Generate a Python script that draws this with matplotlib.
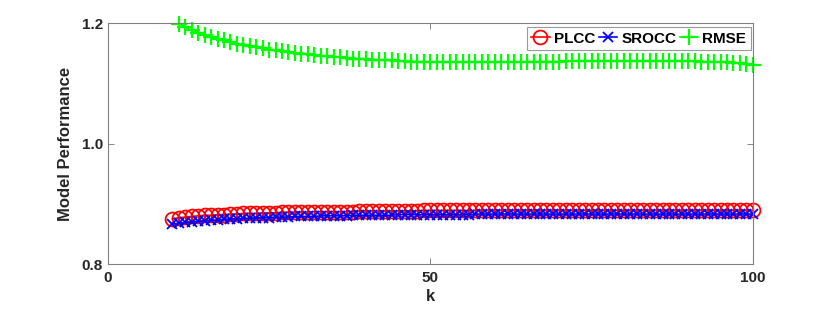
import numpy as np
import matplotlib
matplotlib.use('Agg')
import matplotlib.pyplot as plt

plt.rcParams['font.family'] = ['Liberation Sans', 'DejaVu Sans']
plt.rcParams['font.weight'] = 'bold'

# k = 10 .. 100
k = list(range(10, 101))

plcc = [0.875, 0.877, 0.878, 0.879, 0.880, 0.881, 0.881, 0.882, 0.882, 0.883,
        0.883, 0.884, 0.884, 0.884, 0.885, 0.885, 0.885, 0.886, 0.886, 0.886,
        0.886, 0.886, 0.887, 0.887, 0.887, 0.887, 0.887, 0.887, 0.887, 0.888,
        0.888, 0.888, 0.888, 0.888, 0.888, 0.888, 0.888, 0.888, 0.888, 0.889,
        0.889, 0.889, 0.889, 0.889, 0.889, 0.889, 0.889, 0.889, 0.889, 0.889,
        0.889, 0.889, 0.889, 0.889, 0.889, 0.889, 0.889, 0.889, 0.889, 0.889,
        0.889, 0.889, 0.889, 0.889, 0.889, 0.889, 0.889, 0.889, 0.889, 0.889,
        0.889, 0.889, 0.889, 0.889, 0.889, 0.889, 0.889, 0.889, 0.889, 0.889,
        0.889, 0.889, 0.889, 0.889, 0.889, 0.889, 0.889, 0.889, 0.889, 0.889,
        0.889]

srocc = [0.866, 0.868, 0.869, 0.870, 0.871, 0.872, 0.873, 0.873, 0.874, 0.875,
         0.875, 0.876, 0.876, 0.877, 0.877, 0.877, 0.878, 0.878, 0.878, 0.879,
         0.879, 0.879, 0.879, 0.880, 0.880, 0.880, 0.880, 0.880, 0.881, 0.881,
         0.881, 0.881, 0.881, 0.881, 0.881, 0.882, 0.882, 0.882, 0.882, 0.882,
         0.882, 0.882, 0.882, 0.882, 0.882, 0.882, 0.882, 0.883, 0.883, 0.883,
         0.883, 0.883, 0.883, 0.883, 0.883, 0.883, 0.883, 0.883, 0.883, 0.883,
         0.883, 0.883, 0.883, 0.883, 0.883, 0.883, 0.883, 0.883, 0.883, 0.883,
         0.883, 0.883, 0.883, 0.883, 0.883, 0.883, 0.883, 0.883, 0.883, 0.883,
         0.883, 0.883, 0.883, 0.883, 0.883, 0.883, 0.883, 0.883, 0.883, 0.883,
         0.883]

rmse = [1.215, 1.199, 1.193, 1.188, 1.184, 1.180, 1.177, 1.174, 1.171, 1.168,
        1.166, 1.164, 1.162, 1.160, 1.158, 1.156, 1.155, 1.153, 1.152, 1.150,
        1.149, 1.148, 1.147, 1.146, 1.145, 1.144, 1.143, 1.142, 1.141, 1.141,
        1.140, 1.139, 1.139, 1.138, 1.138, 1.137, 1.137, 1.136, 1.136, 1.136,
        1.135, 1.135, 1.135, 1.135, 1.135, 1.135, 1.135, 1.135, 1.135, 1.135,
        1.135, 1.135, 1.135, 1.135, 1.135, 1.136, 1.136, 1.136, 1.136, 1.136,
        1.136, 1.137, 1.137, 1.137, 1.137, 1.137, 1.137, 1.137, 1.137, 1.137,
        1.137, 1.137, 1.137, 1.137, 1.137, 1.137, 1.137, 1.137, 1.137, 1.137,
        1.137, 1.137, 1.136, 1.136, 1.136, 1.135, 1.135, 1.134, 1.133, 1.132,
        1.131]

ylim = (0.8, 1.2)

fig = plt.figure(figsize=(8.3, 3.11), dpi=100)
ax = fig.add_axes([0.130, 0.151, 0.777, 0.775])

series = [
    (plcc, 'red', 'o', 10, 1.3, 'PLCC'),
    (srocc, 'blue', 'x', 7, 1.3, 'SROCC'),
    (rmse, '#00ff00', '+', 12, 1.6, 'RMSE'),
]
handles = []
for vals, col, mk, ms, mw, lab in series:
    v = np.array(vals)
    # line clipped to the axes, markers only where data is in range
    ax.plot(k, v, color=col, lw=1.2, clip_on=True)
    inside = (v >= ylim[0]) & (v <= ylim[1])
    ax.plot(np.array(k)[inside], v[inside], ls='none', marker=mk, ms=ms,
            mfc='none', mec=col, mew=mw, clip_on=False)
    h, = ax.plot([], [], color=col, lw=1.2, marker=mk, ms=ms, mfc='none', mew=mw, label=lab)
    handles.append(h)

ax.set_xlim(0, 100)
ax.set_ylim(*ylim)
ax.set_xticks([0, 50, 100])
ax.set_yticks([0.8, 1.0, 1.2])
ax.set_yticklabels(['0.8', '1.0', '1.2'])
ax.tick_params(direction='in', length=4, width=0.6, colors='0.45', labelcolor='#262626',
               labelsize=11, top=True, right=True)
ax.tick_params(axis='x', pad=5)
for s in ax.spines.values():
    s.set_color('0.5')
    s.set_linewidth(0.8)

ax.set_xlabel('k', fontsize=12, fontweight='bold', color='#262626', labelpad=3)
ax.set_ylabel('Model Performance', fontsize=12, fontweight='bold', color='#262626', labelpad=6)

leg = ax.legend(handles=handles, loc='upper right', ncol=3, fontsize=11,
                handlelength=1.2, handletextpad=0.3, columnspacing=0.2,
                borderpad=0.3, borderaxespad=0, fancybox=False, edgecolor='0.5',
                bbox_to_anchor=(0.997, 0.983))
leg.get_frame().set_linewidth(0.8)

fig.savefig('out.png', dpi=100)
